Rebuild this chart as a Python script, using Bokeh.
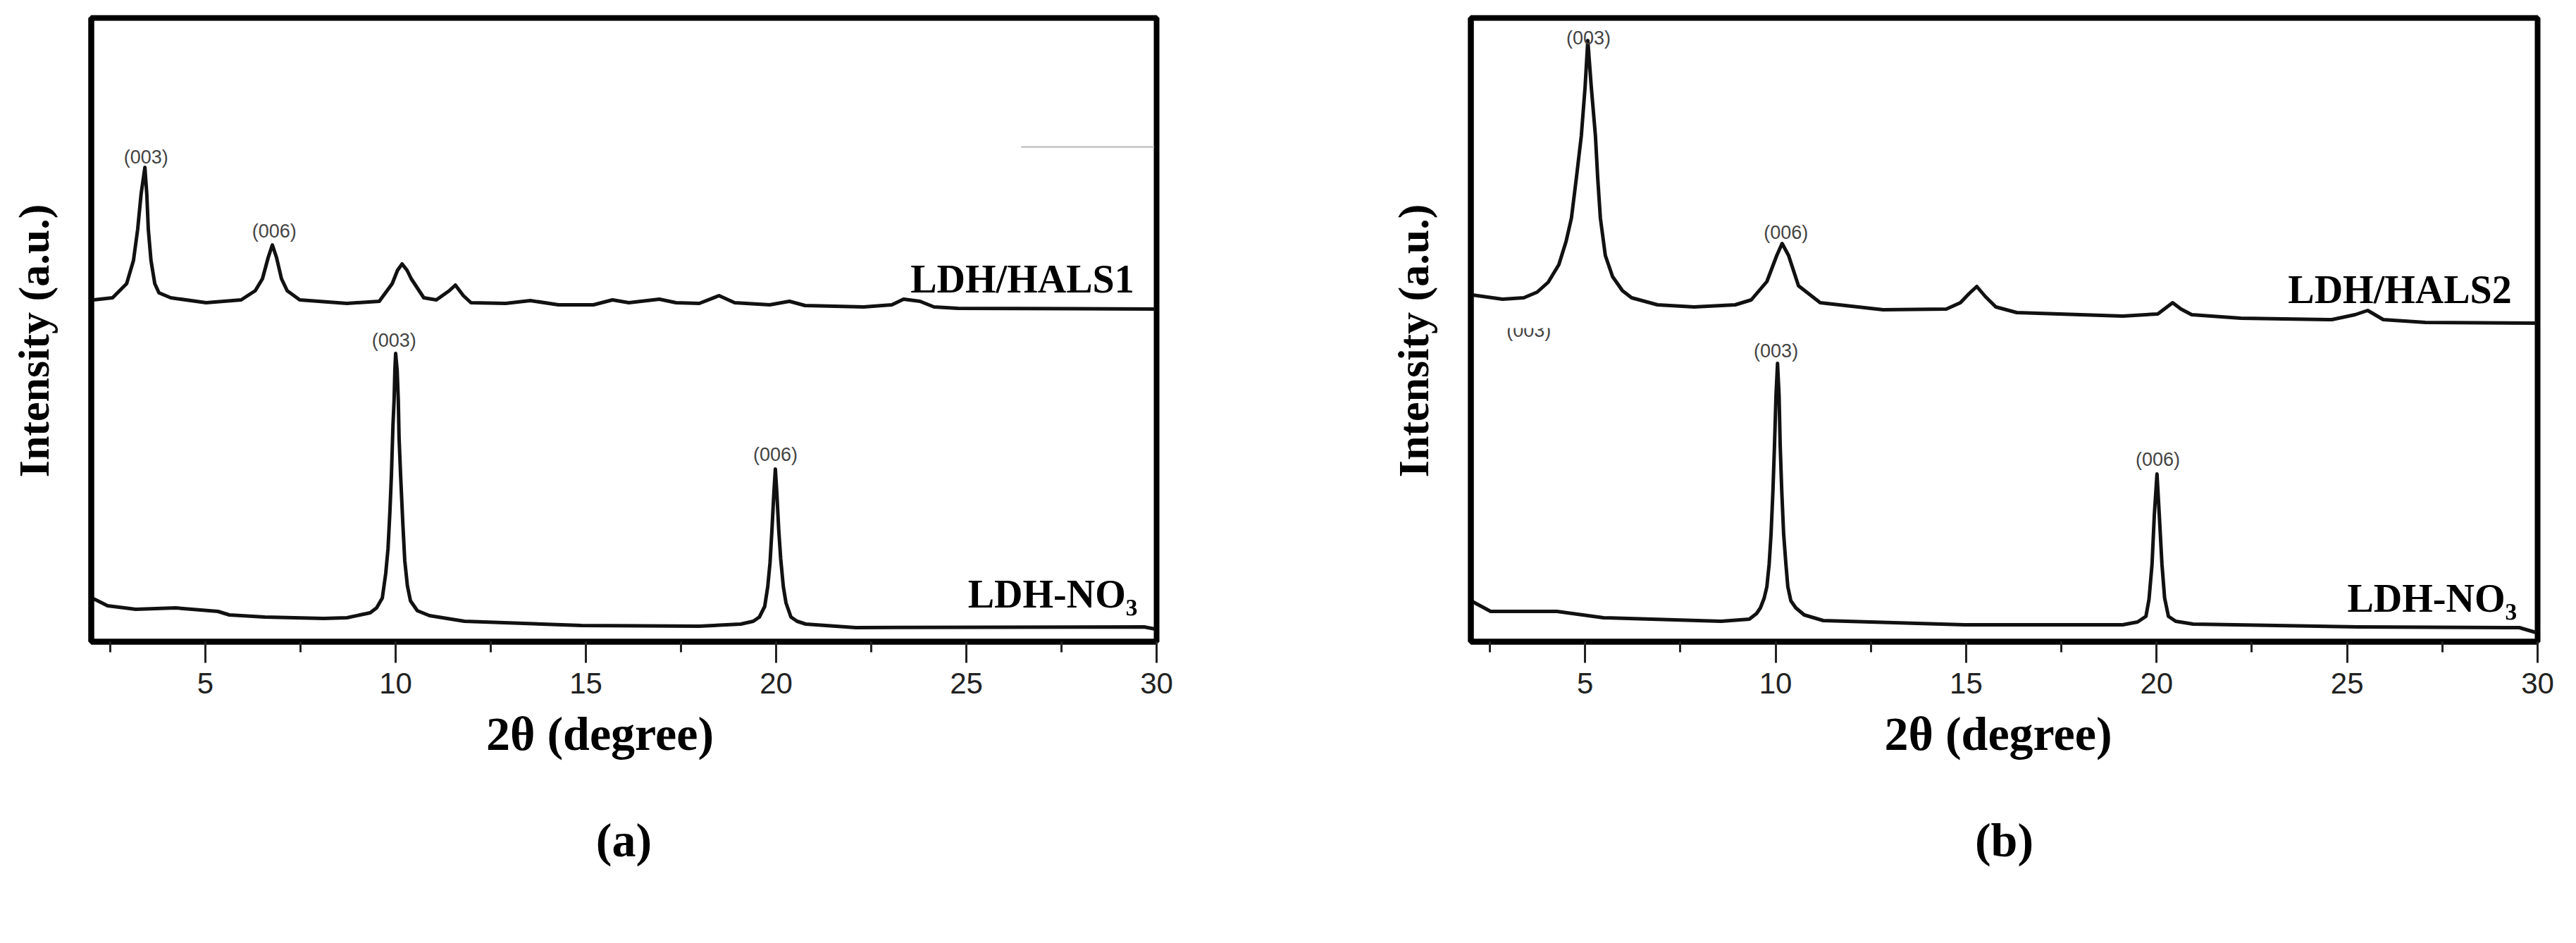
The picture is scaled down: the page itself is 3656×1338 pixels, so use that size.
from bokeh.plotting import figure
from bokeh.models import Range1d, SingleIntervalTicker, FixedTicker, Title
from bokeh.layouts import row
from bokeh.core.properties import value
from bokeh.embed import file_html
from bokeh.resources import INLINE

# ---------------- data (2θ in degree, intensity in a.u.) ----------------
# panel (a)
a_hals1_2theta = [2.06, 2.56, 2.93, 3.11, 3.22, 3.31, 3.41, 3.46, 3.50, 3.57, 3.67, 3.78, 4.09, 5.02,
                  5.94, 6.31, 6.50, 6.65, 6.76, 6.87, 7.00, 7.15, 7.48, 8.72, 9.57, 9.91, 10.05, 10.17,
                  10.30, 10.41, 10.74, 11.07, 11.41, 11.57, 11.78, 11.98, 12.89, 13.54, 14.28, 15.20,
                  15.70, 16.13, 16.93, 17.37, 17.98, 18.50, 18.91, 19.83, 20.35, 20.76, 22.30, 23.04,
                  23.35, 23.78, 24.15, 24.78, 29.96]
a_hals1_int = [485, 488, 508, 541, 585, 635, 673, 635, 585, 541, 508, 495, 488, 481,
               485, 498, 515, 545, 563, 545, 515, 498, 485, 480, 483, 508, 527, 536,
               527, 515, 488, 485, 498, 506, 491, 481, 480, 484, 478, 478,
               485, 481, 486, 481, 480, 491, 481, 478, 483, 477, 475, 478,
               486, 483, 475, 473, 472]

a_no3_2theta = [2.06, 2.43, 3.17, 4.22, 5.33, 5.63, 6.56, 8.11, 8.72, 9.33, 9.50, 9.65, 9.74, 9.80,
                9.85, 9.89, 9.93, 9.96, 9.98, 10.00, 10.04, 10.07, 10.09, 10.13, 10.19, 10.24, 10.31,
                10.39, 10.57, 10.89, 11.81, 14.89, 17.98, 19.07, 19.40, 19.56, 19.70, 19.78, 19.84,
                19.89, 19.94, 19.98, 20.02, 20.07, 20.12, 20.19, 20.26, 20.39, 20.55, 20.78, 22.09,
                29.67, 29.96]
a_no3_int = [61, 51, 46, 48, 43, 38, 35, 33, 34, 41, 48, 62, 97, 132,
             185, 237, 307, 343, 385, 409, 385, 343, 290, 237, 167, 115, 79,
             58, 44, 37, 29, 23, 22, 25, 29, 35, 50, 78, 112,
             158, 210, 245, 210, 158, 118, 78, 55, 35, 29, 25, 20,
             21, 18]

# panel (b)
b_hals2_2theta = [2.04, 2.83, 3.39, 3.74, 4.03, 4.31, 4.50, 4.64, 4.77, 4.90, 5.00, 5.07, 5.16, 5.27,
                  5.33, 5.40, 5.53, 5.72, 5.98, 6.22, 6.90, 7.86, 8.94, 9.36, 9.77, 10.03, 10.17,
                  10.34, 10.60, 11.17, 12.82, 14.48, 14.85, 15.08, 15.28, 15.50, 15.78, 16.33, 19.11,
                  20.03, 20.25, 20.42, 20.64, 20.92, 22.21, 24.60, 25.21, 25.54, 25.95, 27.06, 29.96]
b_hals2_int = [492, 486, 488, 496, 510, 535, 568, 601, 658, 718, 788, 853, 788, 718,
               658, 601, 548, 518, 498, 488, 478, 475, 478, 485, 511, 548, 565,
               548, 505, 481, 471, 472, 481, 494, 504, 490, 475, 467, 462,
               465, 474, 481, 472, 464, 459, 457, 464, 470, 457, 453, 452]

b_no3_2theta = [2.04, 2.52, 4.26, 5.48, 8.57, 9.31, 9.50, 9.60, 9.70, 9.77, 9.83, 9.88, 9.93, 9.97,
                10.01, 10.05, 10.09, 10.12, 10.16, 10.21, 10.27, 10.32, 10.40, 10.53, 10.75, 11.25,
                14.96, 19.11, 19.50, 19.72, 19.80, 19.88, 19.94, 20.01, 20.07, 20.14, 20.21, 20.31,
                20.50, 20.96, 25.30, 29.52, 29.96]
b_no3_int = [57, 43, 43, 34, 29, 32, 40, 48, 62, 78, 110, 153, 215, 278,
             350, 395, 350, 278, 215, 153, 110, 78, 58, 48, 38, 30,
             24, 24, 28, 36, 60, 110, 180, 238, 180, 110, 62, 36,
             29, 25, 21, 20, 13]

# peak (hkl) annotations
a_peak_text = ["(003)", "(006)", "(003)", "(006)"]
a_peak_2theta = [3.44, 6.81, 9.96, 19.98]
a_peak_int = [688, 583, 428, 266]

b_peak_text = ["(003)", "(006)", "(003)", "(006)"]
b_peak_2theta = [5.09, 10.27, 10.01, 20.03]
b_peak_int = [857, 581, 413, 259]

# partly hidden label in panel (b)
b_hidden_text = ["(003)"]
b_hidden_2theta = [3.52]
b_hidden_int = [442]
b_hidden_mask = dict(left=[2.9], right=[4.2], bottom=[445], top=[470])

# stray grey line in panel (a)
a_stray = dict(x0=[26.44], x1=[29.93], y0=[702], y1=[702])

# sample names (right aligned)
a_names = ["LDH/HALS1", "LDH-NO\u2083"]
a_names_2theta = [29.41, 29.50]
a_names_int = [515, 68]
b_names = ["LDH/HALS2", "LDH-NO\u2083"]
b_names_2theta = [29.32, 29.46]
b_names_int = [500, 62]

X_START, X_END = 2, 30
Y_START, Y_END = 0, 885

SERIF = "Liberation Serif"
SANS = "Liberation Sans"
FIG_H = 1322
FRAME_BOTTOM = 918
NB = "\u00a0"


def make_panel(width, border_right, curves, peaks, names, tag, x_pad):
    p = figure(width=width, height=FIG_H, output_backend="svg", toolbar_location=None,
               x_range=Range1d(X_START, X_END), y_range=Range1d(Y_START, Y_END),
               min_border_left=129, min_border_right=border_right,
               min_border_top=25, min_border_bottom=FIG_H + 8 - FRAME_BOTTOM,
               background_fill_color="white", border_fill_color="white")
    p.grid.visible = False
    p.outline_line_color = "black"
    p.outline_line_width = 8

    # x axis
    xa = p.xaxis[0]
    xa.ticker = SingleIntervalTicker(interval=5, num_minor_ticks=2)
    xa.axis_line_width = 8
    xa.axis_line_color = "black"
    xa.major_tick_out = 30
    xa.major_tick_in = 0
    xa.minor_tick_out = 15
    xa.minor_tick_in = 0
    xa.major_tick_line_width = 3
    xa.minor_tick_line_width = 3
    xa.major_tick_line_color = "#222222"
    xa.minor_tick_line_color = "#222222"
    xa.major_label_text_font = SANS
    xa.major_label_text_font_size = "42px"
    xa.major_label_text_color = "#222222"
    xa.major_label_standoff = 14
    xa.axis_label = "2\u03b8 (degree)" + NB * x_pad
    xa.axis_label_text_font = SERIF
    xa.axis_label_text_font_style = "bold"
    xa.axis_label_text_font_size = "68px"
    xa.axis_label_text_color = "black"
    xa.axis_label_standoff = 16

    # y axis: label only
    ya = p.yaxis[0]
    ya.ticker = FixedTicker(ticks=[])
    ya.axis_line_width = 8
    ya.axis_line_color = "black"
    ya.major_tick_line_color = None
    ya.minor_tick_line_color = None
    ya.major_tick_out = 0
    ya.major_label_standoff = 0
    ya.axis_label = "Intensity (a.u.)" + NB * 2
    ya.axis_label_text_font = SERIF
    ya.axis_label_text_font_style = "bold"
    ya.axis_label_text_font_size = "62px"
    ya.axis_label_text_color = "black"
    ya.axis_label_standoff = 48

    for xs, ys in curves:
        p.line(xs, ys, line_color="#111111", line_width=5, line_join="round")

    ptxt, px, py = peaks
    p.text(x=px, y=py, text=ptxt, text_align="center", text_baseline="middle",
           text_font=value(SANS), text_font_size="27px", text_color="#444444")

    ntxt, nx, ny = names
    p.text(x=nx, y=ny, text=ntxt, text_align="right", text_baseline="alphabetic",
           text_font=value(SERIF), text_font_style="bold", text_font_size="56px",
           text_color="black")

    p.add_layout(Title(text=tag, align="center", text_font=SERIF, text_font_style="bold",
                       text_font_size="68px", text_color="black", standoff=140), "below")
    return p


p1 = make_panel(1958, 317,
                [(a_hals1_2theta, a_hals1_int), (a_no3_2theta, a_no3_int)],
                (a_peak_text, a_peak_2theta, a_peak_int),
                (a_names, a_names_2theta, a_names_int), "(a)", 4)
p1.segment(x0=a_stray["x0"], x1=a_stray["x1"], y0=a_stray["y0"], y1=a_stray["y1"],
           line_color="#cccccc", line_width=3)

p2 = make_panel(1682, 39,
                [(b_hals2_2theta, b_hals2_int), (b_no3_2theta, b_no3_int)],
                (b_peak_text, b_peak_2theta, b_peak_int),
                (b_names, b_names_2theta, b_names_int), "(b)", 1)
p2.text(x=b_hidden_2theta, y=b_hidden_int, text=b_hidden_text, text_align="center",
        text_baseline="middle", text_font=value(SANS), text_font_size="27px", text_color="#444444")
p2.quad(left=b_hidden_mask["left"], right=b_hidden_mask["right"],
        bottom=b_hidden_mask["bottom"], top=b_hidden_mask["top"],
        fill_color="white", line_color=None)

layout = row(p1, p2)
open("out.html", "w").write(file_html(layout, INLINE))
